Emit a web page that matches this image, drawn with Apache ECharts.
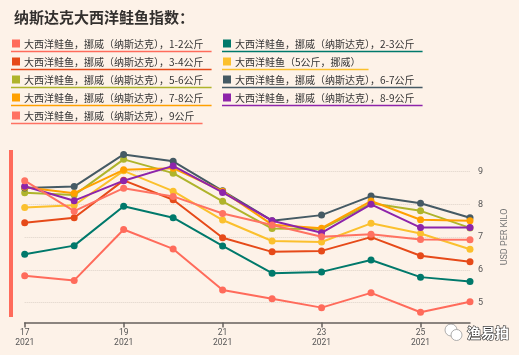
<!DOCTYPE html>
<html>
<head>
<meta charset="utf-8">
<script src="https://cdn.jsdelivr.net/npm/echarts@6/dist/echarts.min.js"></script>
<style>
html,body{margin:0;padding:0;background:#fdf2e8;}
#c{width:519px;height:355px;}
</style>
</head>
<body>
<div id="c"></div>
<script>
const titleText = '纳斯达克大西洋鲑鱼指数：';
const weeks = ['17','18','19','20','21','22','23','24','25','26'];
const yearLabel = '2021';
const yAxisName = 'USD PER KILO';
const watermark = '渔易拍';

const names = [
  '大西洋鲑鱼，挪威（纳斯达克），1-2公斤',
  '大西洋鲑鱼，挪威（纳斯达克），2-3公斤',
  '大西洋鲑鱼，挪威（纳斯达克），3-4公斤',
  '大西洋鲑鱼（5公斤，挪威）',
  '大西洋鲑鱼，挪威（纳斯达克），5-6公斤',
  '大西洋鲑鱼，挪威（纳斯达克），6-7公斤',
  '大西洋鲑鱼，挪威（纳斯达克），7-8公斤',
  '大西洋鲑鱼，挪威（纳斯达克），8-9公斤',
  '大西洋鲑鱼，挪威（纳斯达克），9公斤'
];
const colors = ['#ff6b5b','#00796b','#e64a19','#fbc02d','#afb42b','#455a64','#ffa000','#8e24aa','#ff7262'];

const kg1_2 = [5.82, 5.68, 7.23, 6.64, 5.39, 5.12, 4.85, 5.30, 4.71, 5.03];
const kg2_3 = [6.48, 6.74, 7.94, 7.59, 6.73, 5.90, 5.94, 6.30, 5.78, 5.65];
const kg3_4 = [7.44, 7.59, 8.73, 8.14, 6.98, 6.55, 6.58, 7.00, 6.43, 6.25];
const kg5   = [7.90, 7.97, 9.02, 8.40, 7.52, 6.88, 6.85, 7.42, 7.11, 6.63];
const kg5_6 = [8.35, 8.28, 9.37, 8.95, 8.09, 7.26, 7.24, 8.03, 7.80, 7.28];
const kg6_7 = [8.50, 8.54, 9.52, 9.31, 8.41, 7.50, 7.67, 8.25, 8.03, 7.59];
const kg7_8 = [8.52, 8.34, 9.05, 9.10, 8.40, 7.38, 7.27, 8.10, 7.53, 7.50];
const kg8_9 = [8.55, 8.11, 8.72, 9.17, 8.36, 7.50, 7.13, 8.00, 7.29, 7.29];
const kg9   = [8.72, 7.79, 8.49, 8.24, 7.72, 7.37, 7.01, 7.09, 6.93, 6.92];
const allData = [kg1_2, kg2_3, kg3_4, kg5, kg5_6, kg6_7, kg7_8, kg8_9, kg9];

const chart = echarts.init(document.getElementById('c'));

const legendFont = '10px "Noto Sans CJK SC"';
const ctx = document.createElement('canvas').getContext('2d');
ctx.font = legendFont;

const graphics = [];
// left accent bar
graphics.push({type:'rect', left: 9, top: 150, shape:{width:4, height:167}, style:{fill:'#ff6b5b'}, silent:true});

names.forEach((n, i) => {
  const col = i % 2;
  const row = Math.floor(i / 2);
  const sx = col === 0 ? 12 : 223;
  const cy = 44 + row * 18;
  const tw = ctx.measureText(n).width;
  graphics.push({type:'rect', shape:{x:sx, y:cy-4.5, width:8, height:8}, style:{fill:colors[i]}, silent:true});
  graphics.push({type:'text', x: sx + 12, y: cy, style:{text:n, font: legendFont, fill:'#333', verticalAlign:'middle', align:'left'}, silent:true});
  graphics.push({type:'line', shape:{x1:sx-1, y1:cy+7.5, x2:sx+12+tw+8, y2:cy+7.5}, style:{stroke:colors[i], lineWidth:1.5}, silent:true});
});

// y axis title (rotated)
graphics.push({type:'text', x:505, y:237, rotation: Math.PI/2,
  style:{text:yAxisName, font:'9px Roboto', fill:'#777', align:'center', verticalAlign:'middle'}, silent:true});

// watermark
graphics.push({type:'circle', shape:{cx:451, cy:330, r:6}, style:{fill:'#fff', stroke:'#999', lineWidth:0.8}, silent:true});
graphics.push({type:'circle', shape:{cx:456.5, cy:335, r:5.5}, style:{fill:'#fff', stroke:'#999', lineWidth:0.8}, silent:true});
graphics.push({type:'text', x:467, y:333, style:{text:watermark, font:'bold 14px "Noto Sans CJK SC"', fill:'#fff', stroke:'#333', lineWidth:1.2, verticalAlign:'middle'}, silent:true});

const option = {
  backgroundColor: '#fdf2e8',
  animation: false,
  title: {
    text: titleText, left: 9, top: 5,
    textStyle: {fontSize: 15, fontWeight: 'bold', color: '#33302e', fontFamily: '"Noto Sans CJK SC"'}
  },
  grid: {left: 24.7, right: 49, top: 151.8, bottom: 32.6},
  xAxis: {
    type: 'category', data: weeks, boundaryGap: false,
    axisLine: {lineStyle: {color: '#66605c', width: 1.5}},
    axisTick: {interval: 1, length: 5, lineStyle: {color: '#66605c', width: 1.5}},
    axisLabel: {interval: 1, color: '#555', fontSize: 8.5, margin: 5, lineHeight: 10, fontFamily: 'Roboto',
      formatter: v => v + '\n' + yearLabel},
    splitLine: {show: false}
  },
  yAxis: {
    type: 'value', position: 'right', min: 4.4, max: 9.6,
    axisLine: {show: false}, axisTick: {show: false},
    axisLabel: {margin: 8, color: '#555', fontSize: 9, fontFamily: 'Roboto', showMinLabel: false, showMaxLabel: false,
      formatter: v => (Math.abs(v - Math.round(v)) < 1e-6 ? String(Math.round(v)) : '')},
    splitLine: {show: true, showMinLine: false, showMaxLine: false, lineStyle: {color: '#ddd2c8', type: 'dotted', width: 1}}
  },
  series: names.map((n, i) => ({
    name: n, type: 'line', data: allData[i],
    symbol: 'circle', symbolSize: 7,
    lineStyle: {width: 2, color: colors[i]},
    itemStyle: {color: colors[i]},
    z: 2 + i
  })),
  graphic: graphics
};
chart.setOption(option);
</script>
</body>
</html>
